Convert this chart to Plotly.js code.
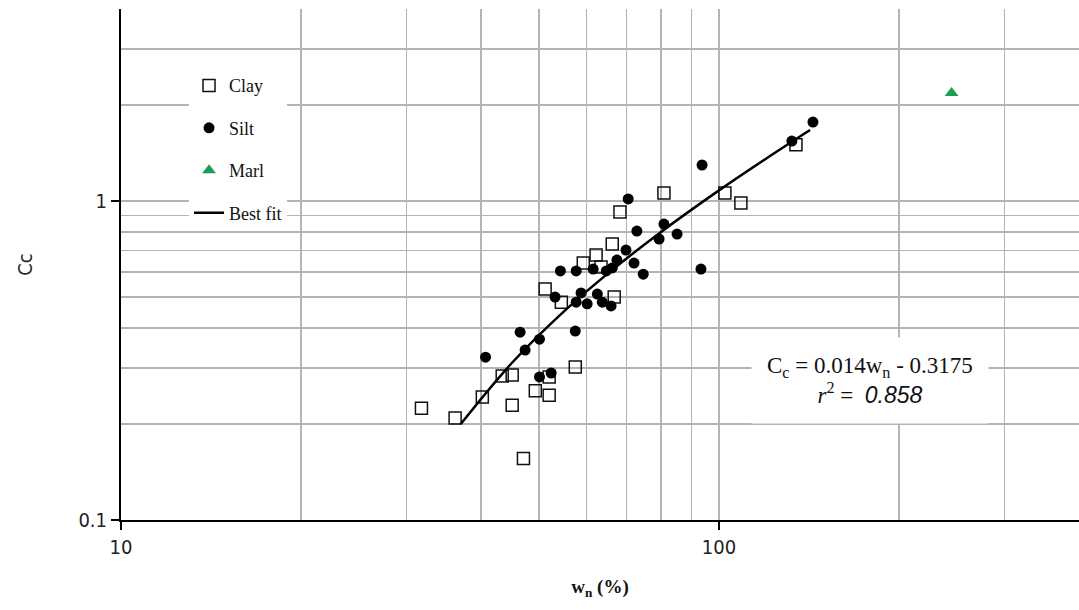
<!DOCTYPE html>
<html>
<head>
<meta charset="utf-8">
<script src="https://cdn.plot.ly/plotly-3.0.1.min.js"></script>
<style>html,body{margin:0;padding:0;background:#fff;}#chart{width:1079px;height:610px;}</style>
</head>
<body>
<div id="chart"></div>
<script>
// Clay (open squares)
const clayWn = [31.8, 36.2, 40.2, 43.4, 45.1, 45.1, 47.1, 49.3, 52.0, 52.0, 57.5, 51.2, 54.5, 59.3, 62.3, 63.5, 66.3, 66.8, 68.3, 80.9, 102.3, 108.8, 134.5];
const clayCc = [0.224, 0.209, 0.243, 0.283, 0.285, 0.229, 0.156, 0.254, 0.281, 0.246, 0.302, 0.530, 0.482, 0.639, 0.677, 0.621, 0.733, 0.500, 0.924, 1.06, 1.06, 0.986, 1.50];
// Silt (filled circles)
const siltWn = [40.7, 46.5, 47.4, 50.1, 50.1, 52.4, 53.2, 54.3, 57.7, 57.5, 58.8, 57.7, 60.2, 62.6, 63.8, 66.0, 61.6, 64.8, 66.3, 67.5, 69.9, 72.1, 74.7, 70.5, 72.9, 79.4, 80.9, 85.1, 93.3, 93.7, 132.4, 143.6];
const siltCc = [0.324, 0.388, 0.341, 0.369, 0.281, 0.289, 0.500, 0.604, 0.604, 0.391, 0.515, 0.482, 0.476, 0.511, 0.482, 0.469, 0.612, 0.604, 0.617, 0.653, 0.702, 0.639, 0.590, 1.015, 0.805, 0.760, 0.847, 0.788, 0.612, 1.297, 1.542, 1.769];
// Marl (triangle)
const marlWn = [244.9];
const marlCc = [2.18];
// Best fit curve
const fitWn = [37, 45, 55, 65, 80, 100, 120, 142];
const fitCc = [0.20, 0.31, 0.45, 0.59, 0.80, 1.08, 1.36, 1.67];
// Axis ticks
const xTicks = [10, 100];
const xTickText = ['10', '100'];
const xMinor = [20, 30, 40, 50, 60, 70, 80, 90, 200, 300, 400];
const yTicks = [0.1, 1];
const yTickText = ['0.1', '1'];
const yMinor = [0.2, 0.3, 0.4, 0.5, 0.6, 0.7, 0.8, 0.9, 2, 3, 4];

const narrow = '"Liberation Sans Narrow", "DejaVu Sans Condensed", "Liberation Sans", sans-serif';
const serif = '"Liberation Serif", "DejaVu Serif", serif';
const grid = '#b4b4b4';

const traces = [
  {x: clayWn, y: clayCc, name: 'Clay', type: 'scatter', mode: 'markers', legendgroup: 'a',
   marker: {symbol: 'square-open', size: 12, color: '#111', line: {width: 1.5, color: '#111'}}},
  {x: siltWn, y: siltCc, name: 'Silt', type: 'scatter', mode: 'markers', legendgroup: 'b',
   marker: {symbol: 'circle', size: 11, color: '#000'}},
  {x: marlWn, y: marlCc, name: 'Marl', type: 'scatter', mode: 'markers', legendgroup: 'c',
   marker: {symbol: 'triangle-up', size: 12, color: '#1f9c55'}},
  {x: fitWn, y: fitCc, name: 'Best fit', type: 'scatter', mode: 'lines', legendgroup: 'd',
   line: {color: '#000', width: 2.5, shape: 'spline'}}
];

const layout = {
  width: 1079, height: 610,
  margin: {l: 121, r: 0, t: 9, b: 90},
  paper_bgcolor: '#fff', plot_bgcolor: '#fff',
  showlegend: true,
  legend: {x: 0.071, y: 0.886, xanchor: 'left', yanchor: 'top', bgcolor: '#fff',
           font: {family: serif, size: 18, color: '#111'}, tracegroupgap: 16,
           traceorder: 'grouped', entrywidth: 95},
  xaxis: {type: 'log', range: [1, Math.log10(400)], tickmode: 'array', tickvals: xTicks, ticktext: xTickText,
          ticks: 'outside', ticklen: 8, tickcolor: '#000', tickwidth: 1.5,
          showline: true, linecolor: '#000', linewidth: 2, showgrid: true, gridcolor: grid, gridwidth: 1.5,
          zeroline: false, tickfont: {family: narrow, size: 20, color: '#222'},
          minor: {tickmode: 'array', tickvals: xMinor, showgrid: true, gridcolor: grid, gridwidth: 1.5, ticks: ''},
          title: {text: '<b>w<sub>n</sub> (%)</b>', font: {family: serif, size: 19, color: '#111'}, standoff: 22}},
  yaxis: {type: 'log', range: [-1, Math.log10(4)], tickmode: 'array', tickvals: yTicks, ticktext: yTickText,
          ticks: 'outside', ticklen: 8, tickcolor: '#000', tickwidth: 1.5,
          showline: true, linecolor: '#000', linewidth: 2, showgrid: true, gridcolor: grid, gridwidth: 1.5,
          zeroline: false, tickfont: {family: narrow, size: 20, color: '#222'},
          minor: {tickmode: 'array', tickvals: yMinor, showgrid: true, gridcolor: grid, gridwidth: 1.5, ticks: ''},
          title: {text: 'Cc', font: {family: narrow, size: 20, color: '#222'}, standoff: 40}},
  annotations: [{
    xref: 'paper', yref: 'paper', x: 0.782, y: 0.273, xanchor: 'center', yanchor: 'middle',
    text: 'C<sub>c</sub> = 0.014w<sub>n</sub> - 0.3175<br><i>r</i><sup>2</sup> =  <i><span style="font-family:Liberation Sans">0.858</span></i>',
    showarrow: false, bgcolor: '#fff', borderpad: 15,
    font: {family: serif, size: 23, color: '#111'}
  }]
};

Plotly.newPlot('chart', traces, layout, {displayModeBar: false, staticPlot: true});
</script>
</body>
</html>
